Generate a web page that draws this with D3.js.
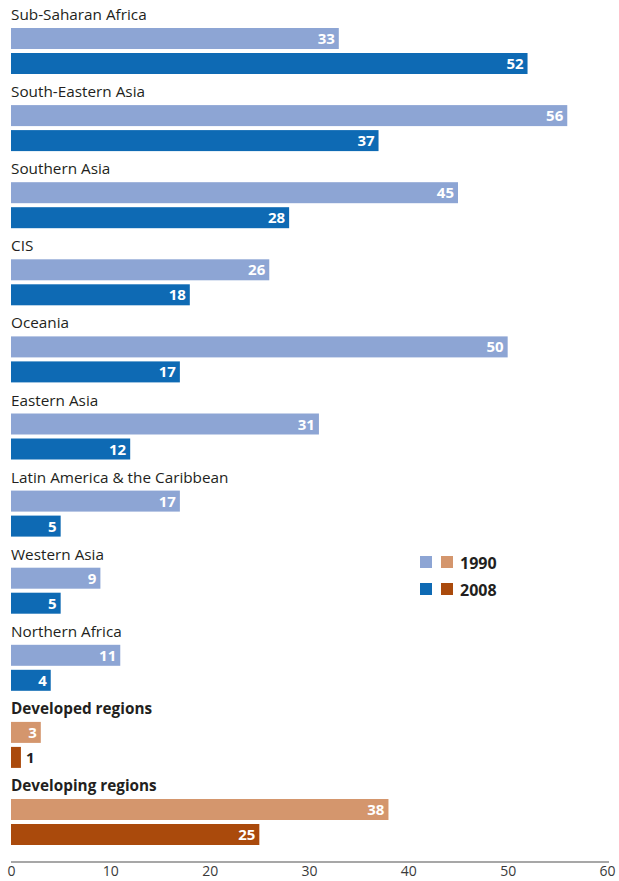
<!DOCTYPE html>
<html>
<head>
<meta charset="utf-8">
<script src="https://cdn.jsdelivr.net/npm/d3@7"></script>
<style>
  body { margin: 0; background: #fff; }
  svg { display: block; font-family: "Open Sans", sans-serif; }
</style>
</head>
<body>
<div id="chart"></div>
<script>
// region names, top to bottom
const regions = ["Sub-Saharan Africa", "South-Eastern Asia", "Southern Asia", "CIS",
  "Oceania", "Eastern Asia", "Latin America & the Caribbean", "Western Asia",
  "Northern Africa", "Developed regions", "Developing regions"];
const values1990 = [33, 56, 45, 26, 50, 31, 17, 9, 11, 3, 38];
const values2008 = [52, 37, 28, 18, 17, 12, 5, 5, 4, 1, 25];
const aggregates = ["Developed regions", "Developing regions"];
const tickValues = [0, 10, 20, 30, 40, 50, 60];
const legendYears = ["1990", "2008"];

const width = 619, height = 881;

const svg = d3.select("#chart").append("svg")
  .attr("width", width)
  .attr("height", height);

const x = d3.scaleLinear().domain([0, 60]).range([11, 607]);
const y = d3.scaleBand().domain(regions).range([2, 2 + 77.1 * regions.length]);

const colors = {
  region: ["#8da5d4", "#0e6ab4"],
  agg: ["#d4966d", "#aa4a0c"]
};

const barH = 21;
const offsets = [26, 51];

const rows = regions.map((r, i) => ({
  name: r, v: [values1990[i], values2008[i]], agg: aggregates.includes(r)
}));

const g = svg.selectAll("g.row").data(rows).enter().append("g")
  .attr("class", "row")
  .attr("transform", d => `translate(0,${y(d.name)})`);

// group labels
g.append("text")
  .attr("x", 11)
  .attr("y", 18)
  .attr("fill", "#231f20")
  .style("font-size", "15.3px")
  .style("font-weight", d => d.agg ? "bold" : "normal")
  .text(d => d.name);

// bars
g.each(function(d) {
  const row = d3.select(this);
  d.v.forEach((v, k) => {
    const col = (d.agg ? colors.agg : colors.region)[k];
    row.append("rect")
      .attr("x", x(0))
      .attr("y", offsets[k])
      .attr("width", x(v) - x(0))
      .attr("height", barH)
      .attr("fill", col);
    const inside = x(v) - x(0) > 18;
    row.append("text")
      .attr("x", inside ? x(v) - 4 : x(v) + 5)
      .attr("y", offsets[k] + 16)
      .attr("text-anchor", inside ? "end" : "start")
      .attr("fill", inside ? "#fff" : "#231f20")
      .style("font-size", "15px")
      .style("font-weight", "bold")
      .text(v);
  });
});

// legend
const leg = svg.append("g").attr("transform", "translate(420,556)");
legendYears.forEach((yr, k) => {
  leg.append("rect").attr("x", 0).attr("y", k * 27).attr("width", 12).attr("height", 12)
    .attr("fill", colors.region[k]);
  leg.append("rect").attr("x", 21).attr("y", k * 27).attr("width", 12).attr("height", 12)
    .attr("fill", colors.agg[k]);
  leg.append("text").attr("x", 40).attr("y", k * 27 + 13)
    .attr("fill", "#231f20")
    .style("font-size", "16px")
    .style("font-weight", "bold")
    .text(yr);
});

// x axis
const axis = svg.append("g")
  .attr("transform", "translate(0,862)")
  .call(d3.axisBottom(x).tickValues(tickValues).tickSize(0).tickPadding(4));
axis.select(".domain").attr("stroke", "#8a8a8a").attr("stroke-width", 1.5)
  .attr("d", `M${x(0)},0H609`);
axis.selectAll("text")
  .attr("fill", "#3a3a3a")
  .style("font-family", "Open Sans, sans-serif")
  .style("font-size", "14px");
</script>
</body>
</html>
